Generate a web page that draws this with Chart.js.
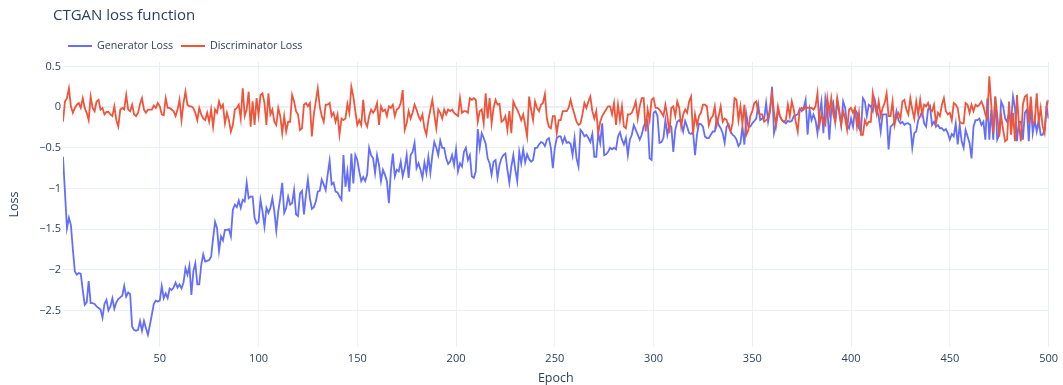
<!DOCTYPE html>
<html>
<head>
<meta charset="utf-8">
<title>CTGAN loss function</title>
<script src="https://cdn.jsdelivr.net/npm/chart.js@4.4.1/dist/chart.umd.min.js"></script>
<style>
  html, body { margin: 0; padding: 0; background: #ffffff; }
  #wrap { width: 1063px; height: 385px; position: relative; }
</style>
</head>
<body>
<div id="wrap"><canvas id="lossChart" width="1063" height="385"></canvas></div>
<script>
// Loss per training epoch (epochs 1..500, ten values per row)
const generatorLoss = [
  -0.61, -1.05, -1.49, -1.36, -1.45, -1.75, -2.02, -2.06, -2.04, -2.05,
  -2.25, -2.43, -2.40, -2.14, -2.41, -2.41, -2.42, -2.45, -2.47, -2.49,
  -2.59, -2.42, -2.37, -2.50, -2.45, -2.35, -2.48, -2.40, -2.36, -2.34,
  -2.32, -2.20, -2.33, -2.28, -2.30, -2.70, -2.74, -2.75, -2.74, -2.63,
  -2.75, -2.63, -2.72, -2.80, -2.68, -2.55, -2.42, -2.38, -2.39, -2.38,
  -2.20, -2.35, -2.29, -2.35, -2.23, -2.25, -2.22, -2.16, -2.22, -2.18,
  -2.23, -2.16, -1.98, -2.06, -1.95, -2.31, -2.02, -1.92, -2.18, -2.18,
  -1.94, -1.81, -1.90, -1.89, -1.88, -1.84, -1.61, -1.41, -1.49, -1.77,
  -1.59, -1.64, -1.51, -1.51, -1.50, -1.59, -1.26, -1.20, -1.23, -1.15,
  -1.24, -1.14, -1.16, -0.93, -1.12, -1.10, -1.10, -1.36, -1.43, -1.41,
  -1.14, -1.28, -1.47, -1.24, -1.30, -1.24, -1.12, -1.28, -1.52, -1.28,
  -1.12, -0.93, -1.30, -1.24, -1.10, -1.20, -1.18, -1.02, -1.32, -1.34,
  -1.06, -1.03, -1.32, -1.08, -0.89, -1.12, -1.25, -1.23, -1.16, -1.04,
  -1.03, -0.89, -0.95, -1.02, -0.83, -0.66, -0.95, -0.93, -1.04, -1.05,
  -1.10, -1.14, -0.59, -0.98, -0.79, -1.04, -0.57, -0.94, -0.59, -0.65,
  -0.79, -0.91, -0.86, -0.91, -0.83, -0.50, -0.59, -0.63, -0.81, -0.59,
  -0.71, -0.91, -0.77, -0.83, -0.91, -1.18, -0.79, -0.57, -0.85, -0.77,
  -0.79, -0.67, -0.85, -0.75, -0.59, -0.87, -0.59, -0.55, -0.44, -0.75,
  -0.69, -0.77, -0.87, -0.68, -0.81, -0.61, -0.81, -0.59, -0.43, -0.50,
  -0.59, -0.41, -0.50, -0.50, -0.63, -0.70, -0.67, -0.59, -0.71, -0.52,
  -0.79, -0.69, -0.73, -0.55, -0.50, -0.65, -0.59, -0.85, -0.87, -0.79,
  -0.27, -0.50, -0.32, -0.38, -0.45, -0.63, -0.69, -0.83, -0.67, -0.65,
  -0.87, -0.71, -0.63, -0.59, -0.57, -0.77, -0.93, -0.73, -0.59, -0.77,
  -0.91, -0.55, -0.69, -0.52, -0.68, -0.58, -0.64, -0.67, -0.65, -0.50,
  -0.50, -0.46, -0.43, -0.44, -0.48, -0.40, -0.38, -0.50, -0.75, -0.50,
  -0.38, -0.36, -0.36, -0.44, -0.37, -0.44, -0.43, -0.45, -0.59, -0.38,
  -0.63, -0.73, -0.28, -0.31, -0.36, -0.34, -0.38, -0.43, -0.33, -0.61,
  -0.61, -0.32, -0.44, -0.20, -0.59, -0.58, -0.55, -0.50, -0.52, -0.50,
  -0.52, -0.36, -0.31, -0.40, -0.46, -0.38, -0.59, -0.40, -0.34, -0.22,
  -0.28, -0.34, -0.40, -0.34, -0.24, -0.18, -0.16, -0.63, -0.65, -0.07,
  -0.05, -0.11, -0.44, -0.43, -0.38, -0.16, -0.34, -0.22, -0.24, -0.55,
  -0.28, -0.18, -0.16, -0.20, -0.30, -0.17, -0.24, -0.32, -0.33, -0.30,
  -0.59, -0.34, -0.20, -0.21, -0.24, -0.36, -0.38, -0.38, -0.34, -0.30,
  -0.30, -0.14, -0.22, -0.26, -0.32, -0.44, -0.24, -0.21, -0.30, -0.34,
  -0.36, -0.40, -0.48, -0.44, -0.24, -0.46, -0.09, -0.24, -0.24, -0.20,
  -0.17, -0.14,  0.03, -0.16, -0.14, -0.14,  0.05, -0.18, -0.05,  0.25,
  -0.32, -0.22, -0.05, -0.11, -0.16, -0.18, -0.20, -0.17, -0.18, -0.17,
  -0.11, -0.10, -0.09, -0.02, -0.05, -0.01,  0.09, -0.34, -0.03, -0.16,
  -0.09, -0.16, -0.32, -0.09,  0.07, -0.32,  0.11, -0.03, -0.40, -0.03,
   0.05, -0.18,  0.07, -0.07, -0.22,  0.07, -0.01, -0.22, -0.26, -0.14,
  -0.24, -0.03, -0.07, -0.26, -0.30,  0.11,  0.07, -0.11,  0.03,  0.01,
  -0.05,  0.09, -0.03, -0.11, -0.30, -0.09, -0.09, -0.09, -0.52, -0.24,
  -0.22, -0.18, -0.05, -0.16, -0.20, -0.18, -0.22, -0.20, -0.20, -0.22,
  -0.50, -0.32, -0.30, -0.16, -0.11, -0.05, -0.20, -0.24, -0.03,  0.01,
  -0.22, -0.18, -0.24, -0.22, -0.26, -0.26, -0.29, -0.27, -0.32, -0.40,
  -0.33, -0.36, -0.20, -0.46, -0.22, -0.42, -0.50, -0.28, -0.36, -0.44,
  -0.63, -0.24, -0.16, -0.16, -0.14, -0.22, -0.18, -0.40,  0.11, -0.40,
  -0.03, -0.40,  0.13, -0.40, -0.34,  0.07,  0.01, -0.14, -0.18, -0.07,
  -0.18,  0.13, -0.01, -0.42, -0.18, -0.18, -0.40, -0.07, -0.03, -0.42,
   0.03, -0.32, -0.16, -0.30, -0.16, -0.34, -0.34, -0.28,  0.01, -0.14
];

const discriminatorLoss = [
  -0.18,  0.07,  0.11,  0.23,  0.01, -0.07, -0.01,  0.03,  0.05, -0.01,
   0.11, -0.01, -0.07, -0.16,  0.13, -0.01, -0.05,  0.07,  0.09, -0.03,
  -0.01, -0.09, -0.06, -0.06, -0.09, -0.11,  0.01, -0.16, -0.24, -0.03,
  -0.01, -0.03,  0.15, -0.03, -0.05,  0.03, -0.09, -0.11, -0.07,  0.04,
   0.11, -0.03, -0.07, -0.03, -0.03, -0.03,  0.02, -0.01,  0.05,  0.01,
  -0.09, -0.10,  0.11, -0.01, -0.01, -0.03, -0.05, -0.11, -0.03,  0.09,
  -0.16,  0.05,  0.19,  0.03,  0.01,  0.01, -0.01, -0.07, -0.16, -0.01,
  -0.09, -0.14, -0.16, -0.07, -0.18, -0.03, -0.24, -0.03, -0.07,  0.07,
  -0.01,  0.03, -0.20, -0.07, -0.16, -0.30, -0.22, -0.03, -0.01,  0.03,
  -0.14,  0.23, -0.11, -0.03,  0.19, -0.24,  0.07, -0.22,  0.11, -0.10,
   0.15,  0.17,  0.05, -0.22,  0.17, -0.09, -0.03, -0.18, -0.22, -0.01,
  -0.11, -0.32, -0.11, -0.30, -0.18, -0.18,  0.15,  0.07, -0.05, -0.09,
  -0.28, -0.26,  0.03,  0.05,  0.01,  0.05, -0.36, -0.09,  0.07,  0.23,
   0.01, -0.11, -0.18,  0.03,  0.03,  0.05, -0.11, -0.07, -0.18, -0.09,
  -0.34, -0.14, -0.16, -0.14,  0.04, -0.07,  0.25,  0.13, -0.05, -0.22,
  -0.16, -0.22,  0.09, -0.18, -0.24, -0.11, -0.03, -0.07, -0.03,  0.05,
  -0.22,  0.01, -0.05, -0.03, -0.11,  0.01, -0.01,  0.03, -0.11, -0.03,
  -0.01,  0.05,  0.21, -0.28, -0.20, -0.05, -0.14, -0.07,  0.03, -0.03,
  -0.11, -0.16, -0.09, -0.26, -0.34, -0.16, -0.03,  0.09, -0.09, -0.26,
  -0.03, -0.07, -0.14, -0.03, -0.09, -0.03, -0.05, -0.03, -0.07, -0.09,
  -0.11,  0.11, -0.07, -0.05, -0.05, -0.07,  0.11,  0.09,  0.11,  0.09,
  -0.18, -0.05, -0.03, -0.20,  0.17, -0.14,  0.11, -0.20, -0.01,  0.09,
   0.03,  0.04, -0.18, -0.16, -0.11, -0.28, -0.05, -0.32,  0.07,  0.01,
  -0.03, -0.09, -0.16, -0.09, -0.22, -0.36,  0.13, -0.03, -0.16,  0.07,
  -0.01, -0.05,  0.03,  0.05,  0.16, -0.14, -0.24, -0.26, -0.11, -0.11,
  -0.32, -0.16, -0.16, -0.05, -0.05, -0.05, -0.01,  0.09, -0.01, -0.09,
  -0.18, -0.22, -0.20, -0.09,  0.05, -0.01,  0.07,  0.13, -0.05, -0.14,
  -0.05, -0.32, -0.18, -0.11, -0.07, -0.03,  0.01,  0.01, -0.09,  0.05,
  -0.22,  0.03, -0.16,  0.01, -0.24, -0.26, -0.09, -0.09, -0.07, -0.01,
   0.07, -0.14,  0.01,  0.11,  0.11, -0.30, -0.03, -0.16,  0.09,  0.11,
  -0.01, -0.01, -0.03, -0.07, -0.11,  0.03, -0.11, -0.32, -0.01,  0.01,
  -0.11,  0.07, -0.01, -0.24, -0.09, -0.03, -0.07,  0.07,  0.13, -0.34,
  -0.09, -0.22, -0.11, -0.07,  0.03,  0.03,  0.01, -0.22, -0.14, -0.11,
   0.01, -0.22, -0.11,  0.01, -0.18, -0.14, -0.16, -0.24, -0.30, -0.20,
   0.11,  0.09, -0.16,  0.01, -0.20,  0.03, -0.34, -0.28, -0.11, -0.05,
   0.05,  0.07, -0.07, -0.09, -0.09, -0.18, -0.16, -0.14, -0.01,  0.17,
  -0.07, -0.22,  0.01, -0.11, -0.16, -0.18, -0.16,  0.03, -0.11,  0.07,
  -0.03, -0.18, -0.30, -0.03, -0.01, -0.03,  0.01, -0.01, -0.01, -0.01,
  -0.03,  0.01,  0.17, -0.22, -0.09, -0.18, -0.22,  0.11, -0.07,  0.11,
  -0.09, -0.18,  0.11, -0.03, -0.22, -0.05, -0.14, -0.28, -0.03, -0.01,
  -0.07, -0.01, -0.24, -0.07, -0.34, -0.34, -0.16, -0.22, -0.18, -0.18,
   0.17,  0.03, -0.09,  0.07, -0.11, -0.01,  0.05,  0.17, -0.11, -0.11,
   0.07, -0.22, -0.11, -0.07, -0.14,  0.07,  0.09, -0.03, -0.09,  0.11,
  -0.03, -0.14,  0.07, -0.09,  0.09, -0.09,  0.03,  0.01,  0.05, -0.03,
  -0.05,  0.03, -0.20, -0.07, -0.11,  0.03,  0.11, -0.05, -0.09, -0.07,
  -0.16,  0.05,  0.03, -0.01, -0.18, -0.20, -0.20,  0.05,  0.03, -0.07,
   0.03, -0.05,  0.03,  0.01,  0.03,  0.07,  0.01, -0.09, -0.14,  0.38,
   0.03, -0.32,  0.13, -0.09, -0.36, -0.11, -0.28, -0.42, -0.40,  0.07,
  -0.34, -0.07, -0.42,  0.15, -0.22, -0.42,  0.03,  0.13,  0.15, -0.20,
   0.13, -0.20, -0.18,  0.17, -0.18, -0.01, -0.24, -0.32,  0.01,  0.09
];

const seriesNames = ['Generator Loss', 'Discriminator Loss'];
const seriesColors = ['#636efa', '#EF553B'];
const xTickValues = [50, 100, 150, 200, 250, 300, 350, 400, 450, 500];
const yTickValues = [0.5, 0, -0.5, -1, -1.5, -2, -2.5];

const FONT = '"Open Sans", "Noto Sans", Arial, sans-serif';
const TEXT_COLOR = '#2a3f5f';
const GRID_COLOR = '#ebf0f8';

const toPoints = arr => arr.map((v, i) => ({ x: i + 1, y: v }));
const fmt = v => (v < 0 ? '\u2212' + String(Math.abs(v)) : String(v));

// Title, legend and axis titles drawn on the canvas
const decorations = {
  id: 'decorations',
  afterDraw(chart) {
    const ctx = chart.ctx;
    const area = chart.chartArea;
    ctx.save();
    ctx.fillStyle = TEXT_COLOR;
    ctx.textBaseline = 'middle';

    ctx.font = '15px ' + FONT;
    ctx.textAlign = 'left';
    ctx.fillText('CTGAN loss function', 53, 16);

    ctx.font = '10.7px ' + FONT;
    const legendX = [68, 181];
    const legendY = 46;
    seriesNames.forEach((name, i) => {
      const x0 = legendX[i];
      ctx.strokeStyle = seriesColors[i];
      ctx.lineWidth = 2;
      ctx.beginPath();
      ctx.moveTo(x0, legendY);
      ctx.lineTo(x0 + 24, legendY);
      ctx.stroke();
      ctx.fillStyle = TEXT_COLOR;
      ctx.fillText(name, x0 + 29, legendY);
    });

    ctx.font = '12.5px ' + FONT;
    ctx.textAlign = 'center';
    ctx.fillText('Epoch', (area.left + area.right) / 2, 378);

    ctx.translate(14, (area.top + area.bottom) / 2);
    ctx.rotate(-Math.PI / 2);
    ctx.fillText('Loss', 0, 0);
    ctx.restore();
  }
};

new Chart(document.getElementById('lossChart'), {
  type: 'line',
  data: {
    datasets: [
      {
        label: seriesNames[0],
        data: toPoints(generatorLoss),
        borderColor: seriesColors[0],
        backgroundColor: seriesColors[0],
        borderWidth: 1.8,
        pointRadius: 0,
        tension: 0,
        order: 1
      },
      {
        label: seriesNames[1],
        data: toPoints(discriminatorLoss),
        borderColor: seriesColors[1],
        backgroundColor: seriesColors[1],
        borderWidth: 1.8,
        pointRadius: 0,
        tension: 0,
        order: 0
      }
    ]
  },
  options: {
    responsive: false,
    animation: false,
    devicePixelRatio: 1,
    layout: { padding: { left: 0, right: 14, top: 62, bottom: 0 } },
    plugins: {
      legend: { display: false },
      title: { display: false },
      tooltip: { enabled: false }
    },
    scales: {
      x: {
        type: 'linear',
        min: 1,
        max: 500,
        afterBuildTicks: axis => { axis.ticks = xTickValues.map(v => ({ value: v })); },
        afterFit: scale => { scale.height = 38; },
        border: { display: false },
        grid: { color: GRID_COLOR, lineWidth: 1, drawTicks: false },
        ticks: {
          padding: 5,
          maxRotation: 0,
          autoSkip: false,
          color: TEXT_COLOR,
          font: { family: FONT, size: 11 },
          callback: v => fmt(v)
        }
      },
      y: {
        type: 'linear',
        min: -2.95,
        max: 0.555,
        afterBuildTicks: axis => { axis.ticks = yTickValues.map(v => ({ value: v })); },
        afterFit: scale => { scale.width = 63; },
        border: { display: false },
        grid: {
          color: GRID_COLOR,
          drawTicks: false,
          lineWidth: c => (c.tick && c.tick.value === 0 ? 2 : 1)
        },
        ticks: {
          padding: 2,
          autoSkip: false,
          color: TEXT_COLOR,
          font: { family: FONT, size: 11 },
          callback: v => fmt(v)
        }
      }
    }
  },
  plugins: [decorations]
});
</script>
</body>
</html>
